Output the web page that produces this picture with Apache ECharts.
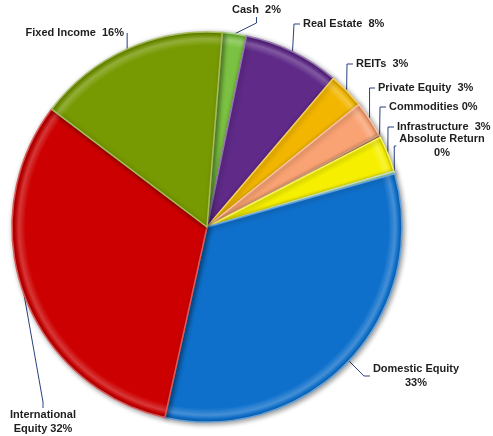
<!DOCTYPE html>
<html>
<head>
<meta charset="utf-8">
<script src="https://cdn.jsdelivr.net/npm/echarts@6/dist/echarts.min.js"></script>
<style>
  html, body { margin: 0; padding: 0; background: #fff; }
  #chart { width: 493px; height: 436px; }
</style>
</head>
<body>
<div id="chart"></div>
<script>
// Asset allocation, percent of portfolio
const categories = ['Cash', 'Real Estate', 'REITs', 'Private Equity', 'Commodities',
  'Infrastructure', 'Absolute Return', 'Domestic Equity', 'International Equity', 'Fixed Income'];
const values = [2, 8, 3, 3, 0, 3, 0, 33, 32, 16];
const labelTexts = ['Cash  2%', 'Real Estate  8%', 'REITs  3%', 'Private Equity  3%', 'Commodities 0%',
  'Infrastructure  3%', 'Absolute Return\n0%', 'Domestic Equity\n33%', 'International\nEquity 32%', 'Fixed Income  16%'];

const colors = ['#7cc242', '#5f2a88', '#f2b600', '#f9a273', '#b8683a',
  '#f6f000', '#a9dfa0', '#0f70cb', '#cc0000', '#779a02'];

// label anchor placement: [x, y, align]
const labelSpots = [
  [229, 10, 'left'], [300, 24, 'left'], [353, 64, 'left'], [375, 88, 'left'],
  [386, 107, 'left'], [394, 127, 'left'], [442, 146, 'center'], [416, 376, 'center'],
  [43, 422, 'center'], [127, 33, 'right']
];

const cx = 207, cy = 227, R = 195;

function tint(hex, k) {
  const n = parseInt(hex.slice(1), 16);
  let r = (n >> 16) & 255, g = (n >> 8) & 255, b = n & 255;
  if (k >= 0) { r += (255 - r) * k; g += (255 - g) * k; b += (255 - b) * k; }
  else { r *= (1 + k); g *= (1 + k); b *= (1 + k); }
  return 'rgb(' + Math.round(r) + ',' + Math.round(g) + ',' + Math.round(b) + ')';
}

// flat fill with a soft light ring just inside the rim and a darker outer edge
function bevel(hex) {
  return {
    type: 'radial', x: cx, y: cy, r: R, global: true,
    colorStops: [
      { offset: 0, color: hex },
      { offset: 0.93, color: hex },
      { offset: 0.965, color: tint(hex, 0.22) },
      { offset: 0.985, color: hex },
      { offset: 1, color: tint(hex, -0.2) }
    ]
  };
}

const chart = echarts.init(document.getElementById('chart'), null, { renderer: 'canvas' });

chart.setOption({
  animation: false,
  backgroundColor: '#ffffff',
  series: [{
    type: 'pie',
    center: [cx, cy],
    radius: [0, R],
    startAngle: 85.5,
    clockwise: true,
    minAngle: 0.8,
    avoidLabelOverlap: false,
    emphasis: { disabled: true },
    itemStyle: {
      borderWidth: 1.5,
      shadowBlur: 5,
      shadowColor: 'rgba(0,0,0,0.4)',
      shadowOffsetX: 1.5,
      shadowOffsetY: 1.5
    },
    label: {
      show: true,
      position: 'outside',
      fontFamily: 'Liberation Sans',
      fontWeight: 'bold',
      fontSize: 11,
      lineHeight: 14,
      padding: [0, 3],
      color: '#1e1e1e',
      formatter: p => labelTexts[p.dataIndex]
    },
    labelLine: {
      show: true,
      length: 8,
      length2: 6,
      lineStyle: { color: '#27407e', width: 1 }
    },
    labelLayout: function (p) {
      const s = labelSpots[p.dataIndex];
      return { x: s[0], y: s[1], align: s[2], verticalAlign: 'middle' };
    },
    data: categories.map((name, i) => ({
      name: name,
      value: values[i],
      itemStyle: { color: bevel(colors[i]), borderColor: tint(colors[i], 0.35) }
    }))
  }]
});
</script>
</body>
</html>
